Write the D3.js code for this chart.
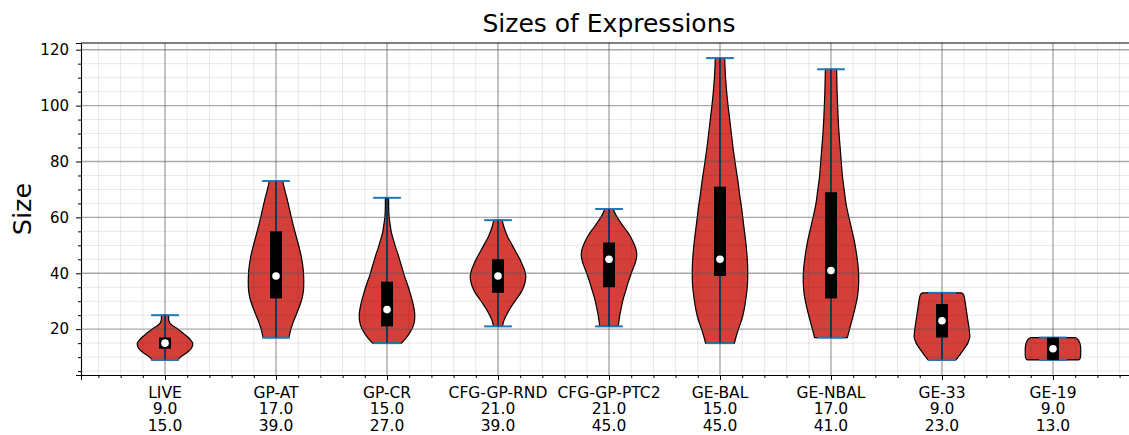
<!DOCTYPE html>
<html>
<head>
<meta charset="utf-8">
<script src="https://cdn.jsdelivr.net/npm/d3@7"></script>
<style>
  body { margin: 0; background: #fff; }
  svg { display: block; font-family: "DejaVu Sans", sans-serif; }
</style>
</head>
<body>
<div id="chart"></div>
<script>
// values
var categories = ['LIVE', 'GP-AT', 'GP-CR', 'CFG-GP-RND', 'CFG-GP-PTC2', 'GE-BAL', 'GE-NBAL', 'GE-33', 'GE-19'];
var minValues = [9, 17, 15, 21, 21, 15, 17, 9, 9];
var maxValues = [25, 73, 67, 59, 63, 117, 113, 33, 17];
var q1Values = [13, 31, 21, 33, 35, 39, 31, 17, 9];
var medianValues = [15, 39, 27, 39, 45, 45, 41, 23, 13];
var q3Values = [17, 55, 37, 45, 51, 71, 69, 29, 17];

// relative violin width (1 = widest) at a given size, per category
var shapeLive = [[9, 0.47], [10, 0.56], [11, 0.7], [12, 0.84], [13, 0.94], [14, 0.99], [15, 1.0], [16, 0.93], [17, 0.84],
    [18, 0.72], [19, 0.6], [20, 0.47], [21, 0.32], [22, 0.19], [23, 0.14], [24, 0.13], [25, 0.13]];
var shapeGpAt = [[17, 0.47], [19, 0.51], [22, 0.6], [25, 0.72], [28, 0.84], [31, 0.94], [34, 0.99], [37, 1.0], [40, 0.99],
    [43, 0.96], [46, 0.91], [49, 0.84], [52, 0.76], [55, 0.68], [58, 0.6], [61, 0.53], [64, 0.46], [67, 0.39], [70, 0.31], [73, 0.24]];
var shapeGpCr = [[15, 0.52], [17, 0.7], [19, 0.84], [21, 0.94], [23, 0.99], [25, 1.0], [27, 0.98], [29, 0.94], [31, 0.89],
    [33, 0.83], [35, 0.77], [37, 0.7], [39, 0.63], [41, 0.57], [43, 0.51], [45, 0.45], [47, 0.39], [49, 0.32], [51, 0.26],
    [53, 0.2], [55, 0.15], [57, 0.12], [59, 0.09], [61, 0.07], [64, 0.06], [67, 0.06]];
var shapeCfgRnd = [[21, 0.16], [23, 0.21], [25, 0.3], [27, 0.41], [29, 0.54], [31, 0.68], [33, 0.82], [35, 0.92], [37, 0.98],
    [39, 1.0], [41, 0.96], [43, 0.88], [45, 0.79], [47, 0.68], [49, 0.57], [51, 0.46], [53, 0.35], [55, 0.27], [57, 0.2], [59, 0.15]];
var shapeCfgPtc2 = [[21, 0.33], [23, 0.36], [25, 0.39], [27, 0.43], [29, 0.47], [31, 0.52], [33, 0.58], [35, 0.64], [37, 0.7],
    [39, 0.77], [41, 0.84], [43, 0.92], [45, 0.98], [47, 1.0], [49, 0.96], [51, 0.88], [53, 0.78], [55, 0.65], [57, 0.5],
    [59, 0.36], [61, 0.24], [63, 0.15]];
var shapeGeBal = [[15, 0.52], [18, 0.6], [21, 0.7], [24, 0.8], [27, 0.87], [30, 0.92], [33, 0.96], [36, 0.99], [40, 1.0],
    [44, 0.99], [48, 0.96], [52, 0.92], [56, 0.87], [60, 0.82], [64, 0.77], [68, 0.71], [72, 0.66], [76, 0.6], [80, 0.54],
    [85, 0.47], [90, 0.41], [95, 0.35], [100, 0.29], [105, 0.24], [110, 0.2], [114, 0.18], [117, 0.17]];
var shapeGeNbal = [[17, 0.59], [20, 0.67], [23, 0.75], [26, 0.83], [29, 0.9], [32, 0.96], [35, 0.99], [38, 1.0], [41, 0.99],
    [44, 0.96], [47, 0.92], [50, 0.87], [53, 0.81], [56, 0.74], [59, 0.67], [62, 0.6], [65, 0.54], [68, 0.5], [71, 0.46],
    [75, 0.41], [80, 0.37], [85, 0.33], [90, 0.29], [95, 0.26], [100, 0.24], [105, 0.22], [110, 0.21], [113, 0.2]];
var shapeGe33 = [[9, 0.5], [10, 0.58], [11, 0.66], [12, 0.73], [13, 0.8], [14, 0.87], [15, 0.93], [16, 0.97], [17, 1.0],
    [18, 1.0], [20, 0.98], [22, 0.95], [24, 0.92], [26, 0.89], [28, 0.86], [30, 0.83], [32, 0.79], [32.5, 0.76], [33, 0.7]];
var shapeGe19 = [[9, 0.92], [9.4, 0.97], [10, 0.99], [11, 1.0], [12, 1.0], [13, 1.0], [14, 0.99], [15, 0.97], [16, 0.92],
    [16.6, 0.87], [17, 0.8]];
var shapes = [shapeLive, shapeGpAt, shapeGpCr, shapeCfgRnd, shapeCfgPtc2, shapeGeBal, shapeGeNbal, shapeGe33, shapeGe19];

var yTicks = [20, 40, 60, 80, 100, 120];

var W = 1129, H = 435;
var margin = {top: 43, left: 81, bottom: 375};

var positions = d3.range(1, categories.length + 1);
var x = d3.scaleLinear().domain([0.243, 9.757]).range([margin.left, 1137]);
var y = d3.scaleLinear().domain([3.6, 122.4]).range([margin.bottom, margin.top]);

var svg = d3.select('#chart').append('svg')
    .attr('width', W)
    .attr('height', H);

svg.append('clipPath').attr('id', 'plot')
    .append('rect')
    .attr('x', margin.left).attr('y', margin.top)
    .attr('width', 1137 - margin.left).attr('height', margin.bottom - margin.top);

var xMinor = d3.range(2, 49).map(function(i) { return i * 0.2; }).filter(function(v) { return Math.abs(v - Math.round(v)) > 1e-6; });
var yMinor = d3.range(5, 121, 5).filter(function(v) { return v % 20 !== 0; });

var plot = svg.append('g').attr('clip-path', 'url(#plot)');

// violin bodies
var halfWidth = 0.25;
plot.selectAll('.body')
    .data(shapes)
    .enter()
    .append('path')
    .attr('class', 'body')
    .attr('fill', '#D43F3A')
    .attr('stroke', '#000')
    .attr('stroke-width', 1.2)
    .attr('d', function(d, i) {
        var p = positions[i];
        return d3.area()
            .curve(d3.curveCatmullRom)
            .y(function(s) { return y(s[0]); })
            .x0(function(s) { return x(p - halfWidth * s[1]); })
            .x1(function(s) { return x(p + halfWidth * s[1]); })(d);
    });

// grid on top of the bodies
var grid = plot.append('g');
grid.selectAll('.xminor').data(xMinor).enter().append('line')
    .attr('x1', function(d) { return x(d); }).attr('x2', function(d) { return x(d); })
    .attr('y1', margin.top).attr('y2', margin.bottom)
    .attr('stroke', '#000').attr('stroke-opacity', 0.09).attr('stroke-width', 1);
grid.selectAll('.yminor').data(yMinor).enter().append('line')
    .attr('y1', function(d) { return y(d); }).attr('y2', function(d) { return y(d); })
    .attr('x1', margin.left).attr('x2', 1137)
    .attr('stroke', '#000').attr('stroke-opacity', 0.09).attr('stroke-width', 1);
grid.selectAll('.xmajor').data(positions).enter().append('line')
    .attr('x1', function(d) { return x(d); }).attr('x2', function(d) { return x(d); })
    .attr('y1', margin.top).attr('y2', margin.bottom)
    .attr('stroke', '#555').attr('stroke-opacity', 0.5).attr('stroke-width', 1.4);
grid.selectAll('.ymajor').data(yTicks).enter().append('line')
    .attr('y1', function(d) { return y(d); }).attr('y2', function(d) { return y(d); })
    .attr('x1', margin.left).attr('x2', 1137)
    .attr('stroke', '#555').attr('stroke-opacity', 0.5).attr('stroke-width', 1.4);

// extrema bars and caps
var marks = plot.selectAll('.marks')
    .data(positions)
    .enter()
    .append('g');

marks.append('line')
    .attr('x1', function(d) { return x(d); }).attr('x2', function(d) { return x(d); })
    .attr('y1', function(d, i) { return y(minValues[i]); })
    .attr('y2', function(d, i) { return y(maxValues[i]); })
    .attr('stroke', '#1f77b4').attr('stroke-width', 1.8);

[minValues, maxValues].forEach(function(vals) {
    marks.append('line')
        .attr('x1', function(d) { return x(d - 0.125); })
        .attr('x2', function(d) { return x(d + 0.125); })
        .attr('y1', function(d, i) { return y(vals[i]); })
        .attr('y2', function(d, i) { return y(vals[i]); })
        .attr('stroke', '#1f77b4').attr('stroke-width', 2);
});

marks.append('line')
    .attr('x1', function(d) { return x(d); }).attr('x2', function(d) { return x(d); })
    .attr('y1', function(d, i) { return y(minValues[i]); })
    .attr('y2', function(d, i) { return y(maxValues[i]); })
    .attr('stroke', '#000').attr('stroke-width', 1);

marks.append('rect')
    .attr('x', function(d) { return x(d) - 6; })
    .attr('width', 12)
    .attr('y', function(d, i) { return y(q3Values[i]); })
    .attr('height', function(d, i) { return y(q1Values[i]) - y(q3Values[i]); })
    .attr('fill', '#000');

marks.append('circle')
    .attr('cx', function(d) { return x(d); })
    .attr('cy', function(d, i) { return y(medianValues[i]); })
    .attr('r', 3.8)
    .attr('fill', '#fff');

// axes
var yAxis = d3.axisLeft(y).tickValues(yTicks).tickSize(5).tickPadding(7);
var yAxisMinor = d3.axisLeft(y).tickValues(yMinor).tickSize(3).tickFormat('');
var xAxis = d3.axisBottom(x).tickValues(positions).tickSize(5).tickFormat('');
var xAxisMinor = d3.axisBottom(x).tickValues(xMinor).tickSize(3).tickFormat('');

var gy = svg.append('g').attr('transform', 'translate(' + margin.left + ',0)').call(yAxis);
svg.append('g').attr('transform', 'translate(' + margin.left + ',0)').call(yAxisMinor).select('.domain').remove();
svg.append('g').attr('transform', 'translate(0,' + margin.bottom + ')').call(xAxis);
svg.append('g').attr('transform', 'translate(0,' + margin.bottom + ')').call(xAxisMinor).select('.domain').remove();

gy.selectAll('text').attr('font-size', 15).attr('fill', '#000').attr('font-family', 'DejaVu Sans');
svg.selectAll('.domain').attr('stroke', '#000').attr('stroke-width', 1.1);
svg.selectAll('.tick line').attr('stroke', '#000').attr('stroke-width', 1);

// top spine
svg.append('line')
    .attr('x1', margin.left).attr('x2', W)
    .attr('y1', margin.top).attr('y2', margin.top)
    .attr('stroke', '#000').attr('stroke-width', 1.1);

// three-line category labels: name, min, median
var fmt = d3.format('.1f');
var labels = svg.append('g').selectAll('text')
    .data(positions)
    .enter()
    .append('text')
    .attr('text-anchor', 'middle')
    .attr('font-size', 15.5)
    .attr('fill', '#000');
labels.each(function(d, i) {
    var t = d3.select(this);
    [categories[i], fmt(minValues[i]), fmt(medianValues[i])].forEach(function(s, k) {
        t.append('tspan').attr('x', x(d)).attr('y', 397.5 + k * 16.8).text(s);
    });
});

svg.append('text')
    .attr('x', x(5)).attr('y', 32)
    .attr('text-anchor', 'middle')
    .attr('font-size', 25)
    .attr('fill', '#000')
    .text('Sizes of Expressions');

svg.append('text')
    .attr('transform', 'translate(31,' + ((margin.top + margin.bottom) / 2) + ') rotate(-90)')
    .attr('text-anchor', 'middle')
    .attr('font-size', 25.5)
    .attr('fill', '#000')
    .text('Size');
</script>
</body>
</html>
